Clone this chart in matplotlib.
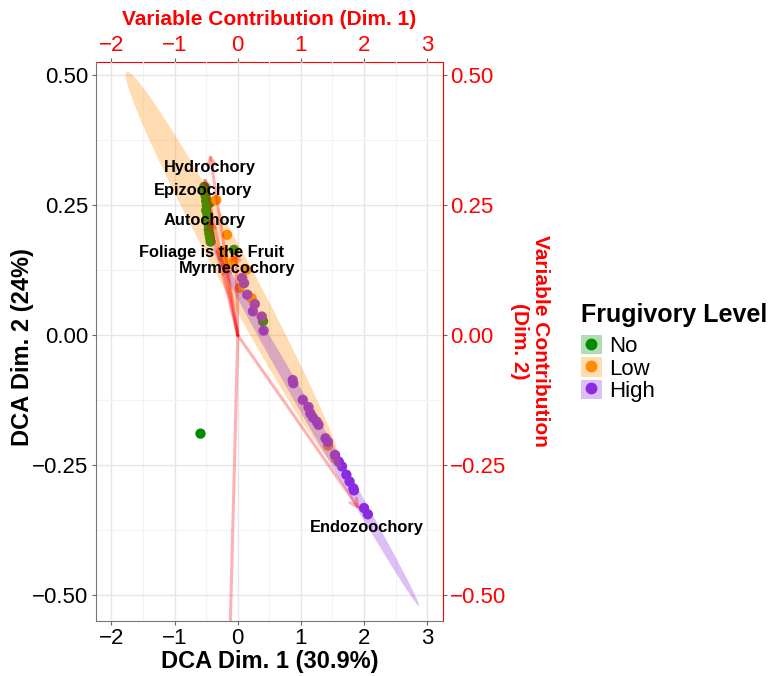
import numpy as np
import matplotlib.pyplot as plt
from matplotlib.patches import Patch, FancyArrowPatch
from matplotlib.lines import Line2D
from matplotlib.legend_handler import HandlerTuple

plt.rcParams['font.family'] = ['Liberation Sans', 'DejaVu Sans']

# site scores, one list per frugivory level
no_x = [-0.53, -0.52, -0.51, -0.50, -0.49, -0.44, -0.50, -0.48, -0.47, -0.46,
        -0.46, -0.45, -0.44, -0.43, -0.06, 0.40, -0.59]
no_y = [0.285, 0.278, 0.268, 0.258, 0.250, 0.255, 0.240, 0.232, 0.222, 0.212,
        0.203, 0.195, 0.188, 0.180, 0.164, 0.027, -0.189]

low_x = [-0.34, -0.17, -0.26, -0.23, -0.18, -0.07, 0.14, 0.03, 0.22, 1.43, 1.55]
low_y = [0.260, 0.193, 0.161, 0.150, 0.135, 0.142, 0.126, 0.091, 0.071, -0.212, -0.237]

high_x = [0.07, 0.10, 0.15, 0.24, 0.27, 0.38, 0.41, 0.87, 0.88, 1.03, 1.12, 1.15,
          1.19, 1.25, 1.28, 1.39, 1.43, 1.54, 1.60, 1.65, 1.72, 1.77, 1.83, 1.84,
          2.00, 2.06]
high_y = [0.110, 0.100, 0.078, 0.046, 0.060, 0.036, 0.009, -0.086, -0.092, -0.124,
          -0.138, -0.150, -0.158, -0.166, -0.172, -0.198, -0.205, -0.230, -0.243,
          -0.252, -0.268, -0.281, -0.294, -0.298, -0.332, -0.344]

# variable contribution arrows (the last one has its label off the panel)
var_names = ["Hydrochory", "Epizoochory", "Autochory", "Foliage is the Fruit",
             "Myrmecochory", "Endozoochory", ""]
var_x = [-0.44, -0.53, -0.46, -0.03, -0.20, 1.93, -0.17]
var_y = [0.348, 0.304, 0.225, 0.165, 0.140, -0.335, -0.80]
lab_x = [-0.44, -0.55, -0.52, -0.42, -0.01, 2.05, -0.19]
lab_y = [0.323, 0.278, 0.220, 0.159, 0.128, -0.369, -0.84]

# group ellipses: centre and two semi-axis vectors
ell_cx = [-0.07, 1.235]
ell_cy = [0.125, -0.175]
ell_ax = [1.69, 1.635]
ell_ay = [-0.381, -0.345]
ell_bx = [0.233, 0.082]
ell_by = [0.0152, 0.0057]
ell_col = ['#FF8C00', '#8A2BE2']

levels = ["No", "Low", "High"]
colors = ['#008B00', '#FF8C00', '#8A2BE2']

xt = [-2, -1, 0, 1, 2, 3]
yt = [-0.5, -0.25, 0, 0.25, 0.5]
ytl = ["\u22120.50", "\u22120.25", "0.00", "0.25", "0.50"]

fig = plt.figure(figsize=(7.73, 6.76), dpi=100)
ax = fig.add_axes([96 / 773, 55 / 676, 347 / 773, 559 / 676])

ax.set_xticks(xt)
ax.set_yticks(yt)
ax.set_yticklabels(ytl)
ax.set_xticks(np.arange(-1.5, 3.5, 1), minor=True)
ax.set_yticks([-0.375, -0.125, 0.125, 0.375], minor=True)
ax.grid(True, which='major', color='#E6E6E6', lw=1.0)
ax.grid(True, which='minor', color='#F3F3F3', lw=0.8)
ax.set_axisbelow(True)
ax.tick_params(which='minor', length=0)
ax.tick_params(which='major', length=2.8, color='#666666', labelsize=16, pad=2.5)

for side in ['left', 'bottom']:
    ax.spines[side].set_color('#777777')
for side in ['top', 'right']:
    ax.spines[side].set_visible(False)

pts = [(no_x, no_y), (low_x, low_y), (high_x, high_y)]
for (px, py), c in zip(pts, colors):
    ax.scatter(px, py, s=55, color=c, edgecolors='none', zorder=2)

t = np.linspace(0, 2 * np.pi, 200)
for i in range(len(ell_cx)):
    ex = ell_cx[i] + ell_ax[i] * np.cos(t) + ell_bx[i] * np.sin(t)
    ey = ell_cy[i] + ell_ay[i] * np.cos(t) + ell_by[i] * np.sin(t)
    ax.fill(ex, ey, color=ell_col[i], alpha=0.3, lw=0, zorder=3)

for i in range(len(var_x)):
    arr = FancyArrowPatch((0, 0), (var_x[i], var_y[i]), arrowstyle='->',
                          mutation_scale=14, color='red', alpha=0.3, lw=2.2,
                          shrinkA=0, shrinkB=0, zorder=4)
    ax.add_patch(arr)
    if var_names[i]:
        ax.text(lab_x[i], lab_y[i], var_names[i], fontsize=11.8, fontweight='bold',
                ha='center', va='center', zorder=5)

ax.set_xlim(-2.245, 3.25)
ax.set_ylim(-0.549, 0.525)

ax.set_xlabel("DCA Dim. 1 (30.9%)", fontsize=17, fontweight='bold')
ax.xaxis.set_label_coords(0.5, -0.052)
ax.set_ylabel("DCA Dim. 2 (24%)", fontsize=17, fontweight='bold')
ax.yaxis.set_label_coords(-0.18, 0.49)

top = ax.secondary_xaxis('top')
top.set_xticks(xt)
top.tick_params(length=2.8, color='#666666', labelsize=16, labelcolor='red', pad=1.5)
top.spines['top'].set_color('red')
top.set_xlabel("Variable Contribution (Dim. 1)", fontsize=15, fontweight='bold',
               color='red', labelpad=7)

right = ax.secondary_yaxis('right')
right.set_yticks(yt)
right.set_yticklabels(ytl)
right.tick_params(length=2.8, color='#666666', labelsize=16, labelcolor='red', pad=2.5)
right.spines['right'].set_color('red')
fig.text(530 / 773, 1 - 341 / 676, "Variable Contribution\n(Dim. 2)", fontsize=15,
         fontweight='bold', color='red', rotation=270, ha='center', va='center',
         multialignment='center', linespacing=1.1)

handles = []
for c in colors:
    handles.append((Patch(facecolor=c, alpha=0.3, edgecolor='none'),
                    Line2D([], [], marker='o', ls='none', color=c, markersize=7.5)))
leg = fig.legend(handles, levels, handler_map={tuple: HandlerTuple(ndivide=1)},
                 loc='upper left', bbox_to_anchor=(572 / 773, 1 - 294 / 676),
                 frameon=False, fontsize=16, title="Frugivory Level",
                 title_fontproperties={'weight': 'bold', 'size': 18},
                 handlelength=0.95, handleheight=0.95, handletextpad=0.3,
                 labelspacing=0.0, borderaxespad=0)
leg._legend_box.align = 'left'
leg._legend_box.sep = 6

fig.savefig("out.png", dpi=100)
